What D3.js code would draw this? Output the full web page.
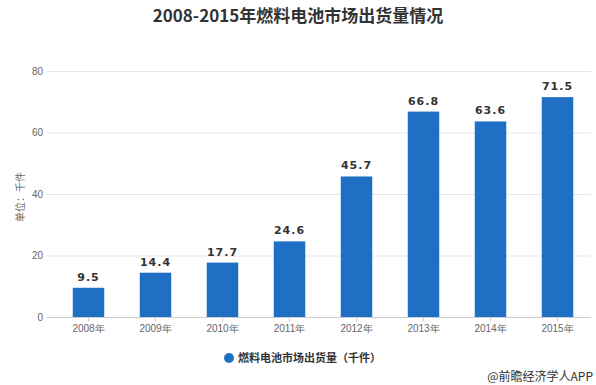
<!DOCTYPE html>
<html>
<head>
<meta charset="utf-8">
<script src="https://cdn.jsdelivr.net/npm/d3@7"></script>
<style>
  body { margin: 0; background: #fff; }
  svg { display: block; font-family: "Noto Sans CJK SC", "Noto Sans", sans-serif; }
</style>
</head>
<body>
<div id="chart"></div>
<script>
// data
var years = ["2008年", "2009年", "2010年", "2011年", "2012年", "2013年", "2014年", "2015年"];
var shipments = [9.5, 14.4, 17.7, 24.6, 45.7, 66.8, 63.6, 71.5];
var yTicks = [0, 20, 40, 60, 80];

var width = 596, height = 385;
var barColor = "#1f70c4";

var svg = d3.select("#chart")
  .append("svg")
    .attr("width", width)
    .attr("height", height);

// scales
var x = d3.scaleBand()
    .domain(years)
    .range([55, 591])
    .paddingInner(0.53)
    .paddingOuter(0.265);

var y = d3.scaleLinear()
    .domain([0, 80])
    .range([317, 71]);

// title
svg.append("text")
    .attr("x", 298)
    .attr("y", 22)
    .attr("text-anchor", "middle")
    .attr("font-size", 17)
    .attr("font-weight", "bold")
    .attr("fill", "#333")
    .text("2008-2015年燃料电池市场出货量情况");

// grid lines
svg.append("g")
  .selectAll("line")
  .data(yTicks.filter(function(d) { return d > 0; }))
  .enter().append("line")
    .attr("x1", 47)
    .attr("x2", 591)
    .attr("y1", function(d) { return y(d) + 0.5; })
    .attr("y2", function(d) { return y(d) + 0.5; })
    .attr("stroke", "#e6e6e6");

// y axis labels
var yAxis = svg.append("g")
    .attr("transform", "translate(47,0)")
    .call(d3.axisLeft(y).tickValues(yTicks).tickSize(0).tickPadding(4));
yAxis.select(".domain").remove();
yAxis.selectAll("text")
    .attr("fill", "#666")
    .attr("font-size", 10)
    .attr("font-family", "'Liberation Sans', Arial, sans-serif");

// bars
svg.append("g")
  .selectAll("rect")
  .data(shipments)
  .enter().append("rect")
    .attr("x", function(d, i) { return x(years[i]); })
    .attr("y", function(d) { return y(d); })
    .attr("width", x.bandwidth())
    .attr("height", function(d) { return y(0) - y(d); })
    .attr("fill", barColor);

// value labels
svg.append("g")
  .selectAll("text")
  .data(shipments)
  .enter().append("text")
    .attr("x", function(d, i) { return x(years[i]) + x.bandwidth() / 2; })
    .attr("y", function(d) { return y(d) - 7; })
    .attr("text-anchor", "middle")
    .attr("font-size", 11)
    .attr("font-weight", "bold")
    .attr("letter-spacing", 1)
    .attr("fill", "#333")
    .attr("font-family", "'DejaVu Sans', sans-serif")
    .text(function(d) { return d.toFixed(1); });

// x axis
var xAxis = svg.append("g")
    .attr("transform", "translate(0," + (y(0) + 0.5) + ")")
    .call(d3.axisBottom(x).tickSize(4).tickPadding(3).tickSizeOuter(0));
xAxis.select(".domain")
    .attr("d", "M47,0H591")
    .attr("stroke", "#ccc");
xAxis.selectAll(".tick line").attr("stroke", "#ccc");
xAxis.selectAll("text")
    .attr("fill", "#666")
    .attr("font-size", 10);

// y axis title
svg.append("text")
    .attr("transform", "translate(24,197) rotate(-90)")
    .attr("text-anchor", "middle")
    .attr("font-size", 10)
    .attr("fill", "#666")
    .text("单位：千件");

// legend
svg.append("circle")
    .attr("cx", 229)
    .attr("cy", 358)
    .attr("r", 5)
    .attr("fill", barColor);
svg.append("text")
    .attr("x", 238)
    .attr("y", 362)
    .attr("font-size", 11)
    .attr("font-weight", "bold")
    .attr("fill", "#333")
    .text("燃料电池市场出货量（千件）");

// source
svg.append("text")
    .attr("x", 593)
    .attr("y", 381)
    .attr("text-anchor", "end")
    .attr("font-size", 12)
    .attr("fill", "#333")
    .text("@前瞻经济学人APP");
</script>
</body>
</html>
